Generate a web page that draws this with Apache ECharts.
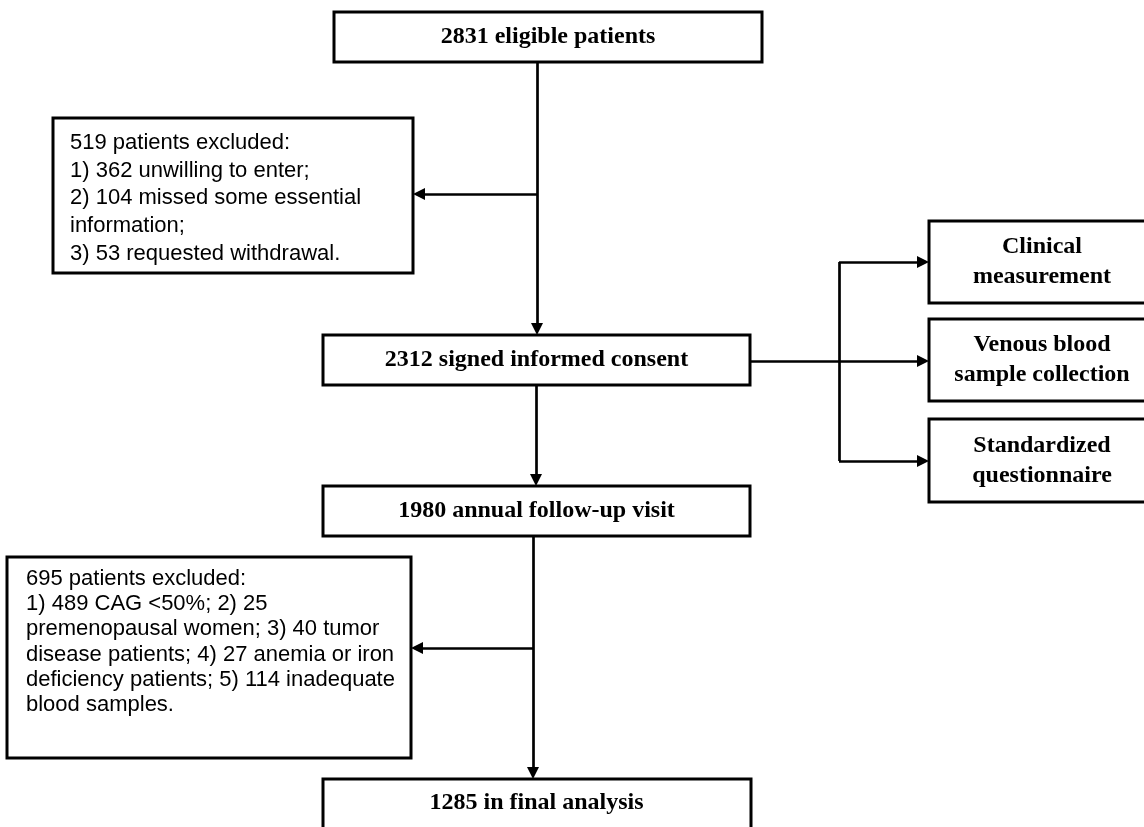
<!DOCTYPE html>
<html>
<head>
<meta charset="utf-8">
<script src="https://cdn.jsdelivr.net/npm/echarts@6/dist/echarts.min.js"></script>
<style>
html,body{margin:0;padding:0;background:#fff;}
#chart{width:1144px;height:827px;}
</style>
</head>
<body>
<div id="chart"></div>
<script>
// ---- chart content (values / texts) ----
const stageCounts = [2831, 2312, 1980, 1285];
const stageLabels = ['eligible patients', 'signed informed consent', 'annual follow-up visit', 'in final analysis'];
const exclusionCounts = [519, 695];
const exclusion1Items = ['1) 362 unwilling to enter;', '2) 104 missed some essential', 'information;', '3) 53 requested withdrawal.'];
const exclusion2Items = ['1) 489 CAG <50%; 2) 25', 'premenopausal women; 3) 40 tumor', 'disease patients; 4) 27 anemia or iron', 'deficiency patients; 5) 114 inadequate', 'blood samples.'];
const measureLabels = ['Clinical\nmeasurement', 'Venous blood\nsample collection', 'Standardized\nquestionnaire'];

// ---- layout (positions in canvas units) ----
const stageBoxes = [[334, 12, 762, 62], [323, 335, 750, 385], [323, 486, 750, 536], [323, 779, 751, 829]];
const stageTextPos = [[548, 37], [536.5, 360], [536.5, 511], [536.5, 803]];
const exclBoxes = [[53, 118, 413, 273], [7, 557, 411, 758]];
const exclTextPos = [[70, 143, 27.7], [26, 579, 25.2]];
const measureBoxes = [[929, 221, 1157, 303], [929, 319, 1157, 401], [929, 419, 1157, 502]];
const measureTextX = 1042;

const SERIF = 'bold 24px "Liberation Serif", "Times New Roman", serif';
const SANS = '22px "Liberation Sans", Arial, sans-serif';

const items = [];
stageBoxes.forEach((b, i) => items.push({
  box: b, text: stageCounts[i] + ' ' + stageLabels[i], tx: stageTextPos[i][0], ty: stageTextPos[i][1],
  font: SERIF, align: 'center', va: 'middle', lh: 30
}));
const exclLines = [
  [exclusionCounts[0] + ' patients excluded:'].concat(exclusion1Items),
  [exclusionCounts[1] + ' patients excluded:'].concat(exclusion2Items)
];
exclBoxes.forEach((b, i) => items.push({
  box: b, text: exclLines[i].join('\n'), tx: exclTextPos[i][0], ty: exclTextPos[i][1] - exclTextPos[i][2] / 2,
  font: SANS, align: 'left', va: 'top', lh: exclTextPos[i][2]
}));
measureBoxes.forEach((b, i) => items.push({
  box: b, text: measureLabels[i], tx: measureTextX, ty: (b[1] + b[3]) / 2,
  font: SERIF, align: 'center', va: 'middle', lh: 30
}));

// connectors (arrow segments end half an arrow-head before the target edge)
const A = 6;
const arrowSegs = [
  [[537, 62], [537, 335 - A]],
  [[537, 194], [413 + A, 194]],
  [[536, 385], [536, 486 - A]],
  [[533, 536], [533, 779 - A]],
  [[533, 648], [411 + A, 648]],
  [[750, 361], [929 - A, 361]],
  [[839, 262], [929 - A, 262]],
  [[839, 461], [929 - A, 461]]
];
const plainSegs = [
  [[839, 262], [839, 461]]
];

function renderBox(params, api) {
  const it = items[params.dataIndex];
  const p0 = api.coord([api.value(0), api.value(1)]);
  const p1 = api.coord([api.value(2), api.value(3)]);
  const tp = api.coord([it.tx, it.ty]);
  return {
    type: 'group',
    children: [
      {
        type: 'rect',
        shape: {
          x: Math.min(p0[0], p1[0]), y: Math.min(p0[1], p1[1]),
          width: Math.abs(p1[0] - p0[0]), height: Math.abs(p1[1] - p0[1])
        },
        style: { fill: '#fff', stroke: '#000', lineWidth: 3 }
      },
      {
        type: 'text',
        x: tp[0], y: tp[1],
        style: {
          text: it.text, font: it.font, fill: '#000',
          align: it.align, verticalAlign: it.va, lineHeight: it.lh
        }
      }
    ]
  };
}

const chart = echarts.init(document.getElementById('chart'), null, { renderer: 'canvas' });
chart.setOption({
  animation: false,
  backgroundColor: '#fff',
  grid: { left: 0, right: 0, top: 0, bottom: 0, containLabel: false },
  xAxis: { type: 'value', min: 0, max: 1144, show: false },
  yAxis: { type: 'value', min: 0, max: 827, inverse: true, show: false },
  series: [
    {
      type: 'custom',
      coordinateSystem: 'cartesian2d',
      renderItem: renderBox,
      clip: false,
      silent: true,
      z: 2,
      data: items.map(it => ({ value: it.box, name: it.text }))
    },
    {
      type: 'lines',
      coordinateSystem: 'cartesian2d',
      silent: true,
      z: 3,
      symbol: ['none', 'triangle'],
      symbolSize: 12,
      lineStyle: { color: '#000', width: 2.7, opacity: 1, curveness: 0 },
      itemStyle: { color: '#000' },
      data: arrowSegs.map(s => ({ coords: s }))
    },
    {
      type: 'lines',
      coordinateSystem: 'cartesian2d',
      silent: true,
      z: 3,
      symbol: ['none', 'none'],
      lineStyle: { color: '#000', width: 2.7, opacity: 1, curveness: 0 },
      data: plainSegs.map(s => ({ coords: s }))
    }
  ]
});
</script>
</body>
</html>
